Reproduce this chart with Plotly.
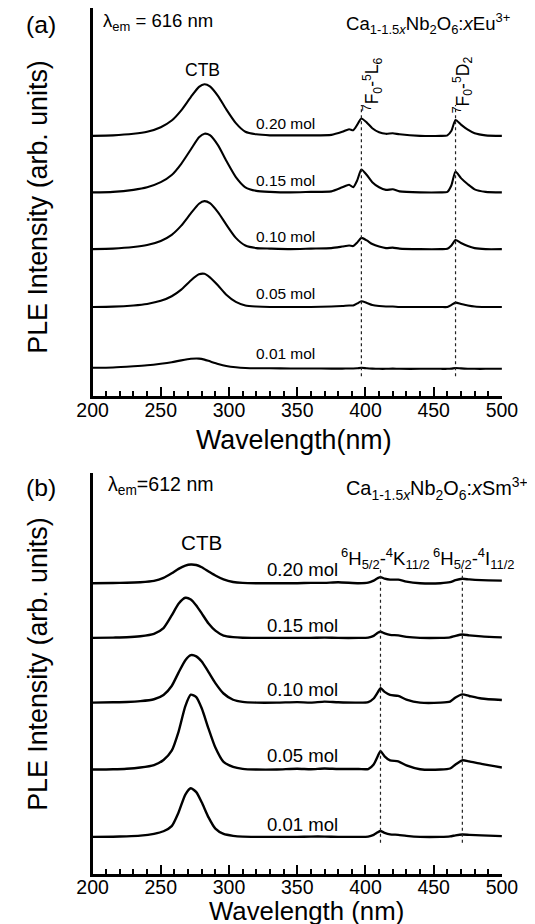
import plotly.graph_objects as go

W, H = 535, 924

# ---------------- data: panel (a) Ca1-1.5xNb2O6:xEu3+ ----------------
wl_a = [200, 215, 230, 240, 250, 258, 265, 272, 278, 282, 286, 292, 298, 305, 312, 320, 330, 345, 360, 375,
        383, 388, 391, 394, 397, 401, 405, 410, 415, 420, 425, 440, 455, 460, 463, 466, 470, 475, 480, 488, 500]
conc_labels = ["0.20 mol", "0.15 mol", "0.10 mol", "0.05 mol", "0.01 mol"]
eu_020 = [0, 0.5, 2, 4, 8.5, 15, 25, 38, 48, 50.6, 48.5, 39, 26, 12.5, 4, 1.5, 0.5, 0.5, 0.5, 1,
          4, 6.5, 5.5, 11, 17, 13, 7.5, 3.5, 2, 2.5, 1.5, 0, 0, 0.5, 5, 15.5, 11, 6, 2.5, 0.5, 0]
eu_015 = [0, 0.5, 2.5, 5, 10, 17, 28, 42, 54, 57.5, 56, 46, 31, 15, 5, 1.5, 0.5, 0, 0.5, 1,
          5, 7.5, 5, 12, 22.5, 17, 10, 5, 2.5, 3, 1, 0, 0, 0.5, 7, 20.5, 14, 8, 3, 0.5, 0]
eu_010 = [0, 0.5, 2, 4, 8, 14, 23, 35, 44.5, 47, 45, 36, 24, 11, 3.5, 1, 0.5, 0, 0.5, 1,
          2.5, 3.5, 3, 6.5, 11, 8.5, 5, 2.5, 1, 1.5, 0.5, 0, 0, 0.3, 3.5, 9, 6, 3, 1, 0, 0]
eu_005 = [0, 0.3, 1.5, 3, 6, 10.5, 17, 26, 32, 32.5, 29, 21, 12, 5, 1.5, 0.5, 0, 0, 0, 0.5,
          1, 1.5, 1.5, 3.5, 5.6, 4, 2, 1, 0.5, 0.5, 0, 0, 0, 0, 2, 4.3, 3, 1.5, 0.5, 0, 0]
eu_001 = [1, 1.3, 2.5, 3.5, 5, 6.5, 8.3, 9.8, 10, 9, 7.3, 4.8, 2.8, 1.5, 0.8, 0.5, 0.5, 0.3, 0.3, 0.2,
          0.2, 0.3, 0.3, 0.5, 1, 0.5, 0.2, 0, 0, 0.2, 0, 0, 0, 0, 0.2, 0.8, 0.4, 0.1, 0, 0, 0]
eu_offsets = [254.7, 199.3, 143.7, 87.0, 26.4]   # vertical stacking (arb. units)
eu_lines = [397, 466]                             # 7F0-5L6, 7F0-5D2 (nm)

# ---------------- data: panel (b) Ca1-1.5xNb2O6:xSm3+ ----------------
wl_b = [200, 215, 225, 235, 245, 252, 258, 263, 268, 272, 276, 280, 285, 290, 296, 303, 310, 320, 335, 350,
        360, 370, 380, 395, 402, 406, 409, 411, 414, 418, 424, 430, 440, 455, 462, 466, 471, 476, 485, 500]
sm_020 = [0, 0.2, 0.4, 1, 2.3, 5.2, 9.7, 14, 17.2, 18.3, 17.8, 15.6, 11.5, 7.5, 3.7, 1.2, 0.3, 0, 0, 0,
          0.3, 0.3, 1, 0, 0.5, 2.5, 5, 6, 4.5, 3.5, 3.5, 1.5, 0, 0, 1, 3, 4.3, 3.7, 3, 2.5]
sm_015 = [0, 0.3, 0.6, 1.6, 4, 9.6, 22, 33.4, 39.3, 37.7, 31.8, 24, 14.1, 7.1, 2.3, 0.8, 0.2, 0, 0, 0,
          0, 0.3, 0, 0, 0.3, 2, 5, 6, 4.5, 3, 2.5, 1, 0, 0, 0.5, 2, 3.3, 2.5, 1.5, 0.5]
sm_010 = [0, 0.3, 0.6, 1.4, 3.3, 7.5, 16.3, 29.4, 41.6, 46.5, 45.3, 40.2, 29.9, 19.1, 8.9, 2.8, 0.7, 0, 0, 0.5,
          0, 1, 0.3, 0, 0.5, 4, 10, 14, 10.5, 7.5, 6.5, 3, 0, 0, 1, 5, 8, 6.5, 4, 2.5]
sm_005 = [0, 0.3, 0.8, 2, 4.4, 9.4, 18.5, 37, 62.2, 73.3, 71, 60, 40, 21.5, 7.4, 2.6, 0.7, 0, 0, 0.8,
          0.3, 1, 0.5, 0.5, 0.5, 5, 13, 18, 13, 9, 8, 4, 0.3, 0, 1, 5, 9, 8, 5.5, 2]
sm_001 = [0, 0.2, 0.5, 1.2, 3, 5.5, 10.5, 23.9, 41.5, 47.7, 43.9, 33.9, 19.1, 8.1, 2.9, 1, 0.2, 0, 0, 0,
          0.3, 0.3, 0, 0, 0.3, 2, 4.5, 5.7, 4, 2.5, 2, 1, 0, 0, 0.5, 1.5, 2.3, 2, 1.5, 0.7]
sm_offsets = [285.3, 231.7, 168.3, 102.7, 36.7]
sm_lines = [411, 471]                             # 6H5/2-4K11/2, 6H5/2-4I11/2 (nm)

x_ticks = [200, 250, 300, 350, 400, 450, 500]

# ---------------- figure ----------------
FONT = "Liberation Sans, Arial, sans-serif"
# the page shows the figure slightly inset and scaled; map target screen pixels to figure pixels
SX0, SXK = 18.0, 0.96
SY0, SYK = 17.0, 0.98
FK = 1 / 0.97


def fx(sx):
    return ((sx - SX0) / SXK) / W


def fy(sy):
    return 1 - ((sy - SY0) / SYK) / H


fig = go.Figure()

for vals, off in zip([eu_020, eu_015, eu_010, eu_005, eu_001], eu_offsets):
    fig.add_trace(go.Scatter(x=wl_a, y=[off + v for v in vals], mode="lines",
                             line=dict(color="black", width=2.1, shape="spline", smoothing=0.6),
                             xaxis="x", yaxis="y", showlegend=False, hoverinfo="skip"))

for vals, off in zip([sm_020, sm_015, sm_010, sm_005, sm_001], sm_offsets):
    fig.add_trace(go.Scatter(x=wl_b, y=[off + v for v in vals], mode="lines",
                             line=dict(color="black", width=2.4, shape="spline", smoothing=0.6),
                             xaxis="x2", yaxis="y2", showlegend=False, hoverinfo="skip"))

# dotted guide lines
for xl in eu_lines:
    fig.add_shape(type="line", xref="x", yref="y", x0=xl, x1=xl, y0=19, y1=285,
                  line=dict(color="#222", width=1.2, dash="dot"))
for xl in sm_lines:
    fig.add_shape(type="line", xref="x2", yref="y2", x0=xl, x1=xl, y0=31, y1=299,
                  line=dict(color="#222", width=1.2, dash="dot"))

xdom = [fx(88), fx(506)]
xaxis_common = dict(range=[200, 500], domain=xdom, showline=True, linewidth=3, linecolor="black",
                    ticks="inside", ticklen=9, tickwidth=2, tickcolor="black",
                    tickmode="array", tickvals=x_ticks, ticktext=[str(t) for t in x_ticks],
                    minor=dict(ticks="inside", ticklen=5, tickwidth=1.5, tickcolor="black", dtick=10, tick0=200),
                    tickfont=dict(family=FONT, size=19.5, color="black"),
                    showgrid=False, zeroline=False, mirror=False)
yaxis_common = dict(showline=True, linewidth=3.2, linecolor="black", showticklabels=False,
                    ticks="", showgrid=False, zeroline=False)

fig.update_layout(
    width=W, height=H, margin=dict(l=0, r=0, t=0, b=0),
    paper_bgcolor="white", plot_bgcolor="white",
    xaxis=dict(**xaxis_common, anchor="y", ticklabelstandoff=-5),
    yaxis=dict(**yaxis_common, range=[0, 380], domain=[fy(397), 1.0], anchor="x"),
    xaxis2=dict(**xaxis_common, anchor="y2", ticklabelstandoff=-7),
    yaxis2=dict(**yaxis_common, range=[0, 393], domain=[fy(866), fy(473)], anchor="x2"),
)


def ann(text, sx, sy, size, xanchor="center", yanchor="middle", angle=0):
    fig.add_annotation(text=text, x=fx(sx), y=fy(sy), xref="paper", yref="paper",
                       xanchor=xanchor, yanchor=yanchor, textangle=angle, showarrow=False,
                       font=dict(family=FONT, size=size * FK, color="black"))


# panel (a) texts
ann("(a)", 35, 33, 24)
ann("λ<sub>em</sub> = 616 nm", 97, 31, 18, xanchor="left")
ann("Ca<sub>1-1.5<i>x</i></sub>Nb<sub>2</sub>O<sub>6</sub>:<i>x</i>Eu<sup>3+</sup>", 345, 32, 18, xanchor="left")
ann("CTB", 200, 78, 17)
ann("<sup>7</sup>F<sub>0</sub>-<sup>5</sup>L<sub>6</sub>", 374, 92, 17, angle=-90)
ann("<sup>7</sup>F<sub>0</sub>-<sup>5</sup>D<sub>2</sub>", 466, 92, 17, angle=-90)
for lab, sy in zip(conc_labels, [130, 186, 241, 297, 356]):
    ann(lab, 285, sy, 15)
ann("PLE Intensity (arb. units)", 32, 212, 26, angle=-90)
ann("Wavelength(nm)", 294, 440, 26)

# panel (b) texts
ann("(b)", 35, 487, 24)
ann("λ<sub>em</sub>=612 nm", 102, 485, 19, xanchor="left")
ann("Ca<sub>1-1.5<i>x</i></sub>Nb<sub>2</sub>O<sub>6</sub>:<i>x</i>Sm<sup>3+</sup>", 345, 488, 19.3, xanchor="left")
ann("CTB", 199, 541, 20)
ann("<sup>6</sup>H<sub>5/2</sub>-<sup>4</sup>K<sub>11/2</sub>", 387, 556, 18)
ann("<sup>6</sup>H<sub>5/2</sub>-<sup>4</sup>I<sub>11/2</sub>", 477, 556, 18)
for lab, sy in zip(conc_labels, [567, 622, 685, 750, 817]):
    ann(lab, 302, sy, 18)
ann("PLE Intensity (arb. units)", 32, 660, 26, angle=-90)
ann("Wavelength (nm)", 306, 902, 25)

fig.write_html("out.html")
